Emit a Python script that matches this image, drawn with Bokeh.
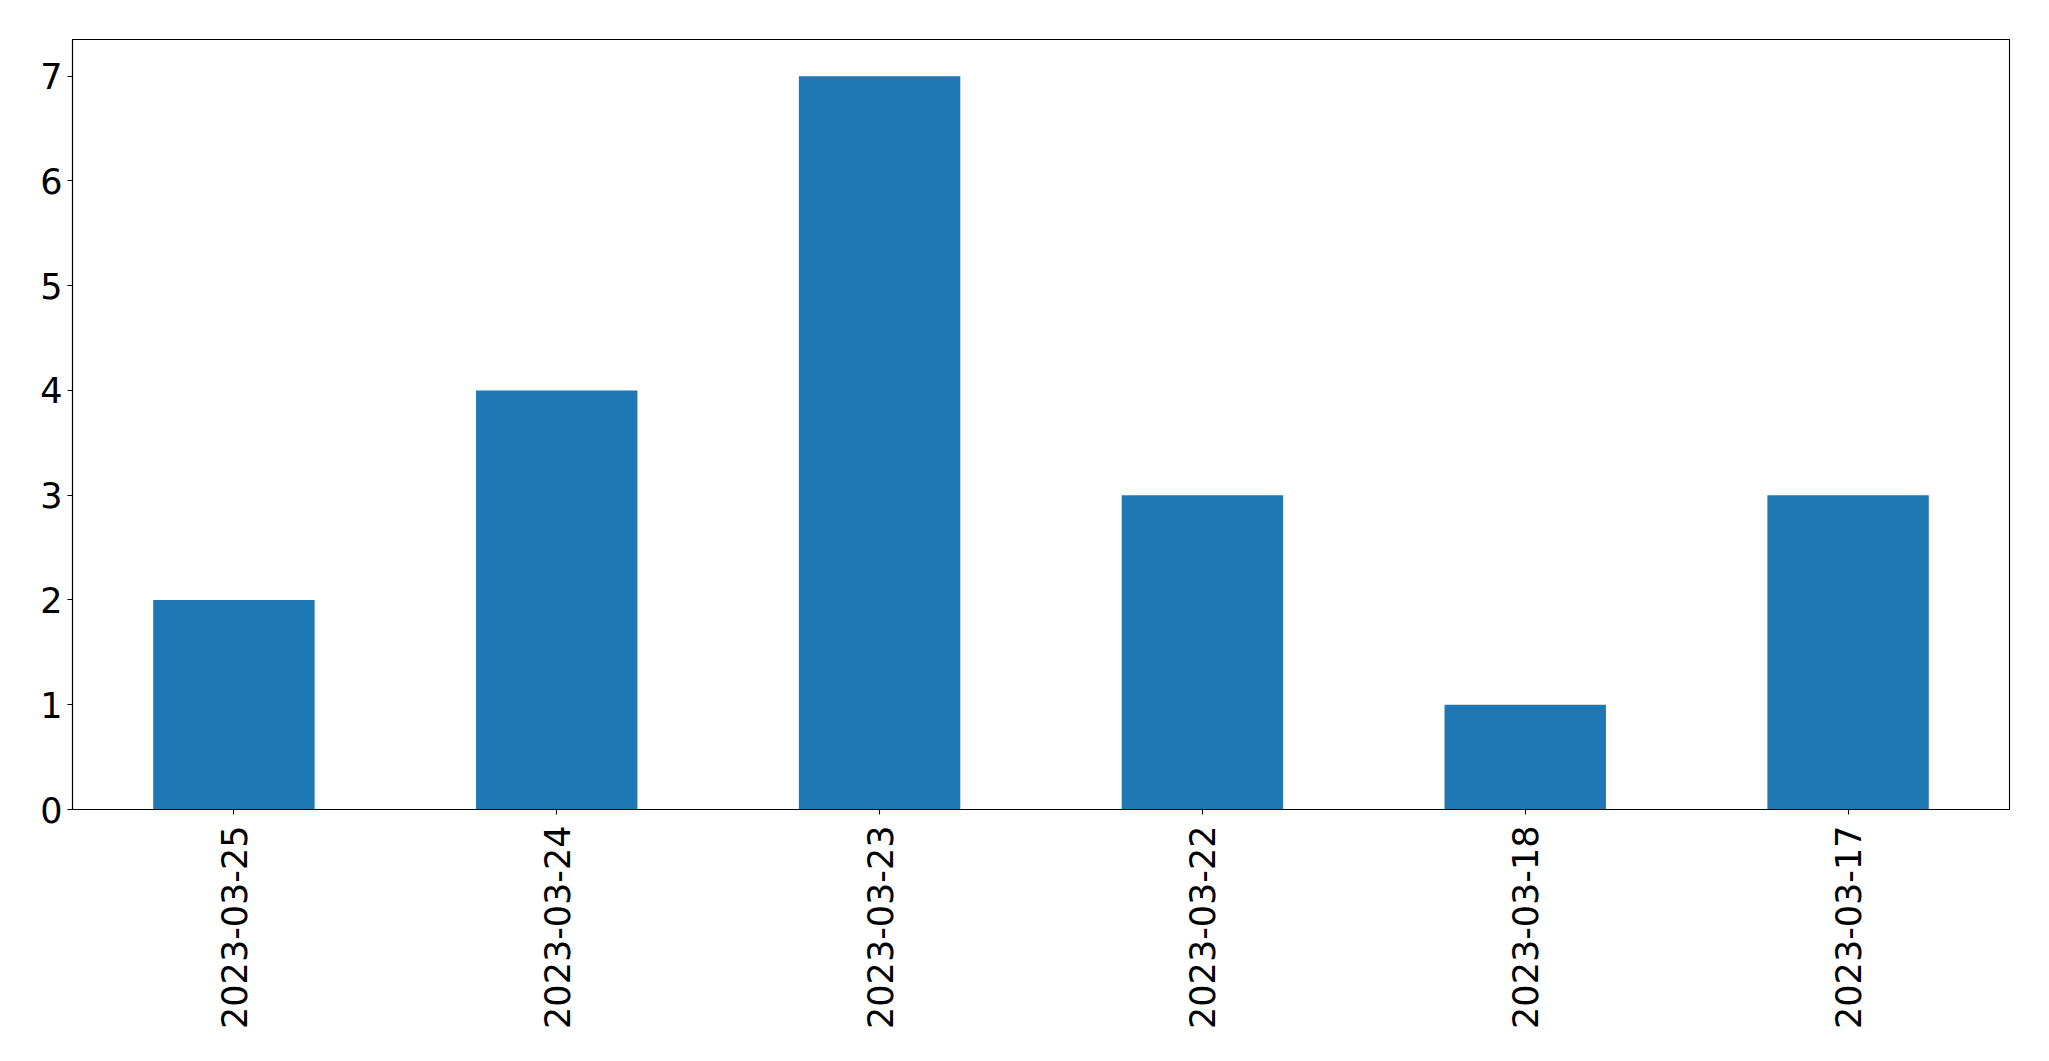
import math
from bokeh.plotting import figure
from bokeh.models import Range1d, FixedTicker, FactorRange
from bokeh.embed import file_html
from bokeh.resources import INLINE

dates = ["2023-03-25", "2023-03-24", "2023-03-23", "2023-03-22", "2023-03-18", "2023-03-17"]
counts = [2, 4, 7, 3, 1, 3]
y_ticks = [0, 1, 2, 3, 4, 5, 6, 7]

p = figure(
    x_range=FactorRange(*dates, range_padding=0),
    y_range=Range1d(0, 7.35),
    frame_width=1937, frame_height=770,
    min_border_left=72, min_border_top=39, min_border_right=32, min_border_bottom=240,
    output_backend="svg", toolbar_location=None,
)
p.vbar(x=dates, top=counts, width=0.5, color="#1f77b4", line_color=None)

p.xgrid.visible = False
p.ygrid.visible = False
p.outline_line_color = "black"
p.outline_line_width = 1.1
p.outline_line_alpha = 1

for ax in (p.xaxis[0], p.yaxis[0]):
    ax.axis_line_color = "black"
    ax.axis_line_width = 1.1
    ax.major_tick_line_color = "black"
    ax.major_tick_line_width = 1.1
    ax.major_tick_in = 0
    ax.major_tick_out = 5
    ax.minor_tick_line_color = None
    ax.major_label_text_font = "DejaVu Sans"
    ax.major_label_text_font_size = "35px"
    ax.major_label_text_color = "black"

p.yaxis[0].ticker = FixedTicker(ticks=y_ticks)
p.yaxis[0].major_label_standoff = 5
p.xaxis[0].major_label_orientation = math.pi / 2
p.xaxis[0].major_label_standoff = 11

open("out.html", "w").write(file_html(p, INLINE))
